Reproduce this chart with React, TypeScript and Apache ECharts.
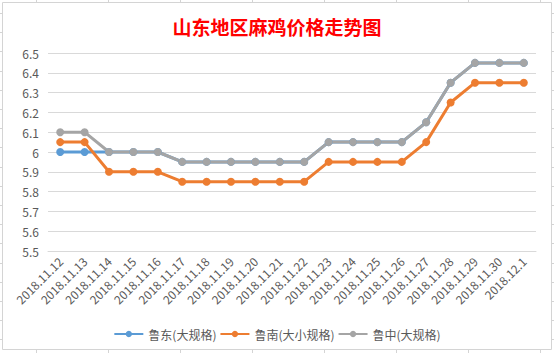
import React, { useEffect, useRef } from "react";
import * as echarts from "echarts";

const categories = [
  "2018.11.12", "2018.11.13", "2018.11.14", "2018.11.15", "2018.11.16",
  "2018.11.17", "2018.11.18", "2018.11.19", "2018.11.20", "2018.11.21",
  "2018.11.22", "2018.11.23", "2018.11.24", "2018.11.25", "2018.11.26",
  "2018.11.27", "2018.11.28", "2018.11.29", "2018.11.30", "2018.12.1",
];
const ludong = [6, 6, 6, 6, 6, 5.95, 5.95, 5.95, 5.95, 5.95, 5.95, 6.05, 6.05, 6.05, 6.05, 6.15, 6.35, 6.45, 6.45, 6.45];
const lunan = [6.05, 6.05, 5.9, 5.9, 5.9, 5.85, 5.85, 5.85, 5.85, 5.85, 5.85, 5.95, 5.95, 5.95, 5.95, 6.05, 6.25, 6.35, 6.35, 6.35];
const luzhong = [6.1, 6.1, 6.0, 6.0, 6.0, 5.95, 5.95, 5.95, 5.95, 5.95, 5.95, 6.05, 6.05, 6.05, 6.05, 6.15, 6.35, 6.45, 6.45, 6.45];
const seriesNames = ["鲁东(大规格)", "鲁南(大小规格)", "鲁中(大规格)"];
const colors = ["#5B9BD5", "#ED7D31", "#A5A5A5"];

const W = 554;
const H = 353;
const FONT = "'Noto Sans CJK SC', 'Liberation Sans', sans-serif";

export default function App() {
  const ref = useRef<HTMLDivElement>(null);
  useEffect(() => {
    if (!ref.current) return;
    const chart = echarts.init(ref.current, undefined, { renderer: "svg" });

    const cellLines: any[] = [];
    const lineStyle = { stroke: "#D4D4D4", lineWidth: 1 };
    for (let x = 36; x < W; x += 72) {
      cellLines.push({ type: "line", shape: { x1: x + 0.5, y1: 0, x2: x + 0.5, y2: 2 }, style: lineStyle, silent: true });
      cellLines.push({ type: "line", shape: { x1: x + 0.5, y1: 350, x2: x + 0.5, y2: H }, style: lineStyle, silent: true });
    }
    for (let y = 13; y < H; y += 19.2) {
      const yy = Math.round(y) + 0.5;
      cellLines.push({ type: "line", shape: { x1: 0, y1: yy, x2: 2, y2: yy }, style: lineStyle, silent: true });
      cellLines.push({ type: "line", shape: { x1: 552, y1: yy, x2: W, y2: yy }, style: lineStyle, silent: true });
    }

    const data = [ludong, lunan, luzhong];
    chart.setOption({
      animation: false,
      backgroundColor: "#ffffff",
      textStyle: { fontFamily: FONT },
      title: {
        text: "山东地区麻鸡价格走势图",
        left: "center",
        top: 12,
        textStyle: { color: "#FF0000", fontSize: 19, fontWeight: "bold", fontFamily: FONT },
      },
      legend: {
        top: 323,
        left: "center",
        itemWidth: 29,
        itemHeight: 8,
        itemGap: 3,
        textStyle: { color: "#595959", fontSize: 12, fontFamily: FONT },
        data: seriesNames,
      },
      grid: { left: 48, right: 18, top: 53, bottom: 102 },
      xAxis: {
        type: "category",
        data: categories,
        boundaryGap: true,
        axisTick: { show: false },
        axisLine: { lineStyle: { color: "#D9D9D9" } },
        axisLabel: { rotate: 45, interval: 0, fontSize: 12, color: "#595959", margin: 8, fontFamily: FONT },
      },
      yAxis: {
        type: "value",
        min: 5.5,
        max: 6.5,
        interval: 0.1,
        axisLine: { show: false },
        axisTick: { show: false },
        splitLine: { lineStyle: { color: "#D9D9D9" } },
        axisLabel: {
          fontSize: 12,
          color: "#595959",
          margin: 9,
          fontFamily: FONT,
          formatter: (v: number) => String(+v.toFixed(1)),
        },
      },
      series: data.map((d, i) => ({
        name: seriesNames[i],
        type: "line",
        data: d,
        symbol: "circle",
        symbolSize: 8,
        lineStyle: { width: 3, color: colors[i] },
        itemStyle: { color: colors[i] },
      })),
      graphic: [
        {
          type: "rect",
          shape: { x: 2.5, y: 2.5, width: 549, height: 347 },
          style: { fill: "none", stroke: "#D4D4D4", lineWidth: 1 },
          silent: true,
          z: 100,
        },
        ...cellLines,
      ],
    });
    return () => chart.dispose();
  }, []);
  return (
    <div
      ref={ref}
      style={{ position: "fixed", left: 0, top: 0, width: W, height: H }}
    />
  );
}
